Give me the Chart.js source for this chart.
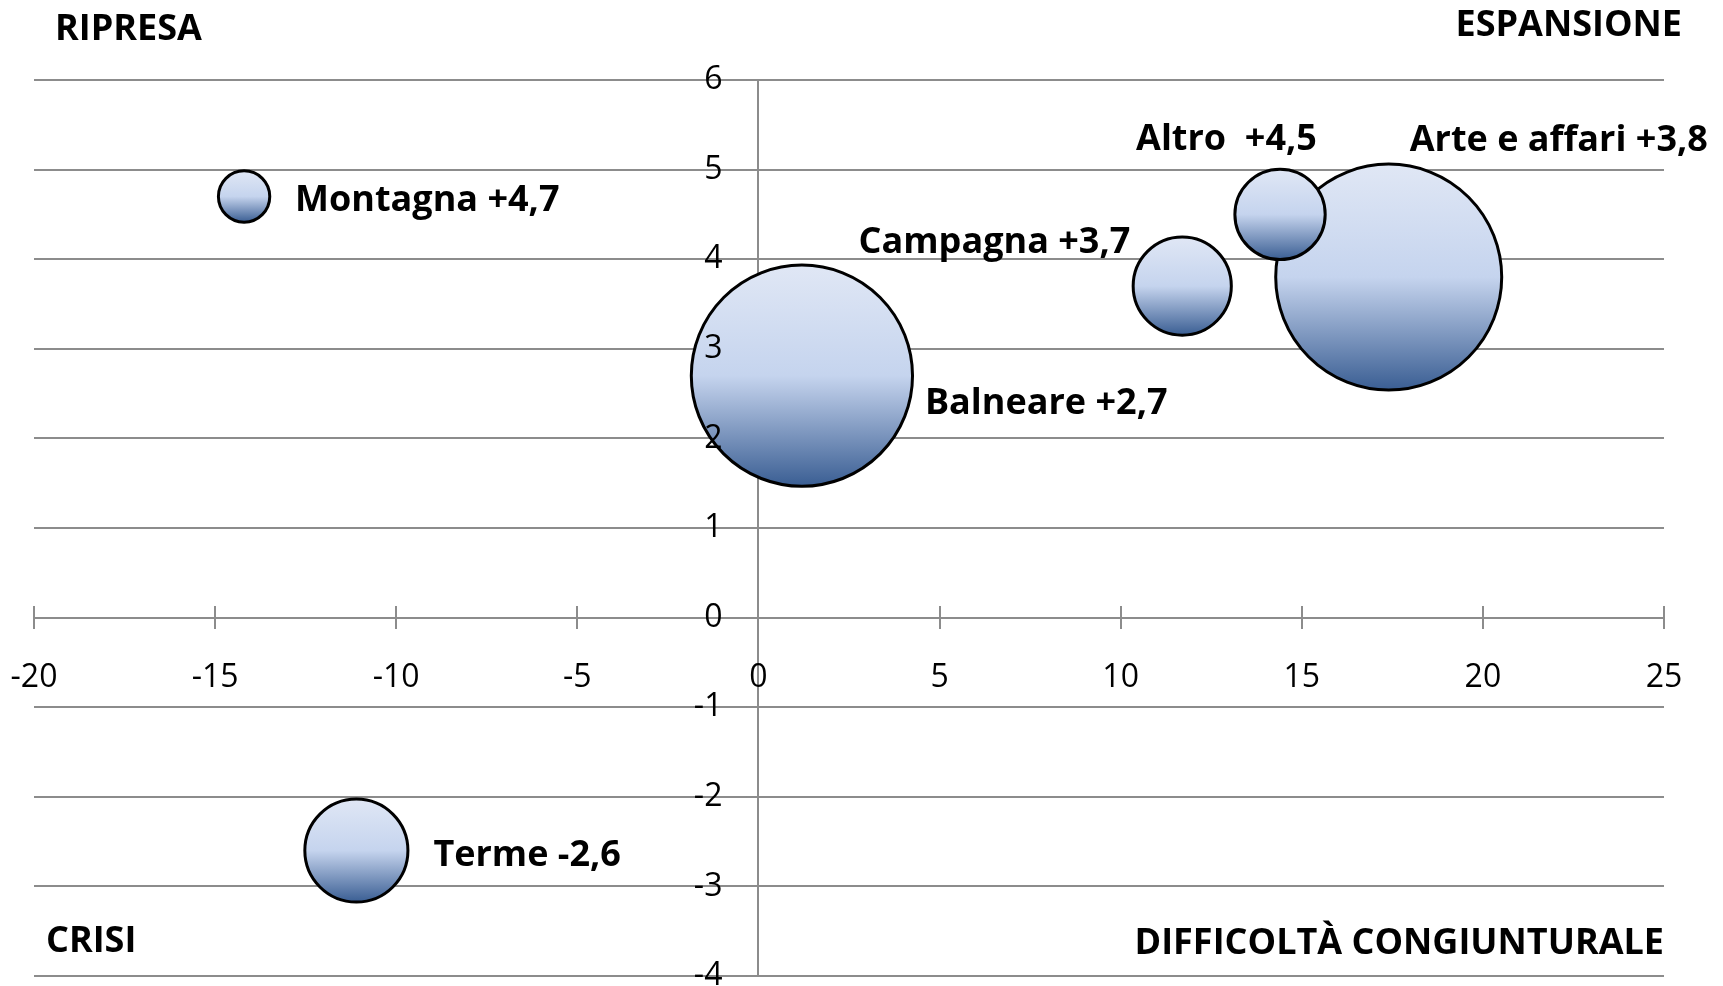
<!DOCTYPE html>
<html lang="it">
<head>
<meta charset="utf-8">
<title>Turismo: quadranti</title>
<script src="https://cdn.jsdelivr.net/npm/chart.js@4.4.1/dist/chart.umd.min.js"></script>
<style>
  html, body { margin: 0; padding: 0; background: #fff; }
  canvas { display: block; }
</style>
</head>
<body>
<canvas id="bubbleChart" width="1723" height="986"></canvas>
<script>
// dati (ordine = ordine di disegno, Altro sopra Arte e affari)
const categories = ['Arte e affari', 'Balneare', 'Terme', 'Campagna', 'Altro', 'Montagna'];
const valueTexts = ['+3,8', '+2,7', '-2,6', '+3,7', ' +4,5', '+4,7'];
const xValues = [17.4, 1.2, -11.1, 11.7, 14.4, -14.2];
const yValues = [3.8, 2.7, -2.6, 3.7, 4.5, 4.7];
const sizes = [31.0, 29.7, 6.45, 5.85, 4.95, 1.6];
const xTicks = [-20, -15, -10, -5, 0, 5, 10, 15, 20, 25];
const yTicks = [-4, -3, -2, -1, 0, 1, 2, 3, 4, 5, 6];
const quadrantNames = ['RIPRESA', 'ESPANSIONE', 'CRISI', 'DIFFICOLTÀ CONGIUNTURALE'];

const maxRadius = 113;
const gridColor = '#8c8c8c';
const labelFont = 'bold 36px "Open Sans"';
const tickFont = { family: 'Open Sans', size: 32 };

// posizione etichette rispetto al centro della bolla (px)
const labelPlacement = [
    { align: 'left', dx: 21, dy: -126 },
    { align: 'left', dx: 123, dy: 38 },
    { align: 'left', dx: 77, dy: 15 },
    { align: 'right', dx: -52, dy: -33 },
    { align: 'left', dx: -144, dy: -64 },
    { align: 'left', dx: 51, dy: 15 }
];

const maxSize = Math.max(...sizes);
const points = categories.map((c, i) => ({
    x: xValues[i],
    y: yValues[i],
    r: maxRadius * Math.sqrt(sizes[i] / maxSize)
}));

function bubbleFill(context) {
    const chart = context.chart;
    const raw = context.raw;
    const yScale = chart.scales.y;
    if (!raw || !yScale) return '#c6d5ee';
    const cy = yScale.getPixelForValue(raw.y);
    if (!isFinite(cy)) return '#c6d5ee';
    const g = chart.ctx.createLinearGradient(0, cy - raw.r, 0, cy + raw.r);
    g.addColorStop(0, '#e0e7f5');
    g.addColorStop(0.5, '#c5d4ee');
    g.addColorStop(0.56, '#b5c6e3');
    g.addColorStop(1, '#3a5e93');
    return g;
}

// tacche che attraversano gli assi
const crossTicks = {
    id: 'crossTicks',
    beforeDatasetsDraw(chart) {
        const { ctx, scales: { x, y } } = chart;
        const x0 = x.getPixelForValue(0);
        const y0 = y.getPixelForValue(0);
        ctx.save();
        ctx.strokeStyle = gridColor;
        ctx.lineWidth = 2;
        ctx.beginPath();
        xTicks.forEach(v => {
            const px = Math.round(x.getPixelForValue(v));
            ctx.moveTo(px, y0 - 11.5);
            ctx.lineTo(px, y0 + 11.5);
        });
        yTicks.forEach(v => {
            const py = Math.round(y.getPixelForValue(v));
            ctx.moveTo(x0 - 11.5, py);
            ctx.lineTo(x0 + 11.5, py);
        });
        ctx.stroke();
        ctx.restore();
    }
};

const textLabels = {
    id: 'textLabels',
    afterDatasetsDraw(chart) {
        const { ctx, chartArea, scales: { x, y } } = chart;
        const meta = chart.getDatasetMeta(0);
        ctx.save();

        // etichette asse y (a sinistra dell'asse in x = 0)
        const x0 = x.getPixelForValue(0);
        ctx.font = tickFont.size + 'px "' + tickFont.family + '"';
        ctx.fillStyle = '#000';
        ctx.textAlign = 'right';
        ctx.textBaseline = 'middle';
        yTicks.forEach(v => {
            ctx.fillText(String(v), x0 - 36, y.getPixelForValue(v));
        });

        ctx.font = labelFont;
        ctx.textBaseline = 'alphabetic';
        meta.data.forEach((el, i) => {
            const p = labelPlacement[i];
            ctx.textAlign = p.align;
            ctx.fillText(categories[i] + ' ' + valueTexts[i], el.x + p.dx, el.y + p.dy);
        });

        // nomi dei quadranti
        ctx.textAlign = 'left';
        ctx.fillText(quadrantNames[0], chartArea.left + 21, chartArea.top - 40);
        ctx.textAlign = 'right';
        ctx.fillText(quadrantNames[1], chart.width - 41, chartArea.top - 44);
        ctx.textAlign = 'left';
        ctx.fillText(quadrantNames[2], chartArea.left + 12, chartArea.bottom - 24);
        ctx.textAlign = 'right';
        ctx.fillText(quadrantNames[3], chartArea.right, chartArea.bottom - 22);
        ctx.restore();
    }
};

const ctx = document.getElementById('bubbleChart').getContext('2d');
const myBubbleChart = new Chart(ctx, {
    type: 'bubble',
    data: {
        datasets: [{
            data: points,
            backgroundColor: bubbleFill,
            hoverBackgroundColor: bubbleFill,
            borderColor: '#000',
            borderWidth: 3,
            hoverBorderWidth: 3,
            clip: false
        }]
    },
    options: {
        responsive: false,
        animation: false,
        events: [],
        layout: {
            autoPadding: false,
            padding: { left: 34, right: 59, top: 80, bottom: 10 }
        },
        plugins: {
            legend: { display: false },
            tooltip: { enabled: false }
        },
        scales: {
            x: {
                type: 'linear',
                position: { y: 0 },
                min: -20,
                max: 25,
                afterBuildTicks: (s) => { s.ticks = xTicks.map(v => ({ value: v })); },
                afterFit: (s) => { s.paddingLeft = 0; s.paddingRight = 0; },
                grid: { drawOnChartArea: false, drawTicks: false },
                border: { color: gridColor, width: 2 },
                ticks: {
                    padding: 41,
                    font: tickFont,
                    color: '#000',
                    maxRotation: 0,
                    autoSkip: false,
                    z: 1
                }
            },
            y: {
                type: 'linear',
                position: { x: 0 },
                min: -4,
                max: 6,
                afterBuildTicks: (s) => { s.ticks = yTicks.map(v => ({ value: v })); },
                afterFit: (s) => { s.paddingTop = 0; s.paddingBottom = 0; },
                grid: { color: gridColor, lineWidth: 2, drawTicks: false },
                border: { color: gridColor, width: 2 },
                ticks: { display: false }
            }
        }
    },
    plugins: [crossTicks, textLabels]
});
</script>
</body>
</html>
